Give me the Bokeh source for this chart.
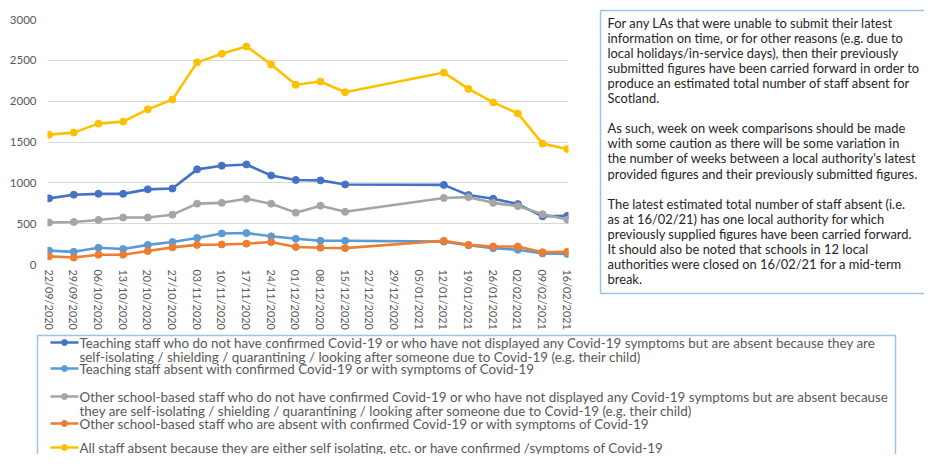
from bokeh.plotting import figure
from bokeh.models import Range1d, FixedTicker, ColumnDataSource, Label
from bokeh.layouts import column, row
from bokeh.embed import file_html
from bokeh.resources import INLINE
from bokeh.core.properties import value

# ---------------- data ----------------
dates = ["22/09/2020", "29/09/2020", "06/10/2020", "13/10/2020", "20/10/2020",
         "27/10/2020", "03/11/2020", "10/11/2020", "17/11/2020", "24/11/2020",
         "01/12/2020", "08/12/2020", "15/12/2020", "22/12/2020", "29/12/2020",
         "05/01/2021", "12/01/2021", "19/01/2021", "26/01/2021", "02/02/2021",
         "09/02/2021", "16/02/2021"]

teaching_isolating = [810, 855, 865, 865, 920, 930, 1165, 1210, 1225, 1090, 1035, 1030, 980,
                      None, None, None, 975, 850, 805, 740, 590, 595]
teaching_covid = [170, 155, 205, 190, 240, 275, 325, 380, 385, 345, 315, 290, 290,
                  None, None, None, 280, 235, 200, 180, 135, 130]
other_isolating = [515, 520, 545, 575, 575, 610, 745, 755, 805, 745, 635, 720, 645,
                   None, None, None, 815, 825, 755, 715, 615, 550]
other_covid = [100, 85, 120, 120, 165, 210, 240, 245, 255, 275, 215, 205, 200,
               None, None, None, 290, 240, 220, 220, 150, 155]
all_staff = [1590, 1615, 1725, 1750, 1900, 2020, 2475, 2580, 2670, 2450, 2200, 2240, 2110,
             None, None, None, 2350, 2150, 1985, 1850, 1480, 1415]

y_ticks = [0, 500, 1000, 1500, 2000, 2500, 3000]

series_labels = [
    ["Teaching staff who do not have confirmed Covid-19 or who have not displayed any Covid-19 symptoms but are absent because they are",
     "self-isolating / shielding / quarantining / looking after someone due to Covid-19 (e.g. their child)"],
    ["Teaching staff absent with confirmed Covid-19 or with symptoms of Covid-19"],
    ["Other school-based staff who do not have confirmed Covid-19 or who have not displayed any Covid-19 symptoms but are absent because",
     "they are self-isolating / shielding / quarantining / looking after someone due to Covid-19 (e.g. their child)"],
    ["Other school-based staff who are absent with confirmed Covid-19 or with symptoms of Covid-19"],
    ["All staff absent because they are either self isolating, etc. or have confirmed /symptoms of Covid-19"],
]
series_values = [teaching_isolating, teaching_covid, other_isolating, other_covid, all_staff]
series_colors = ["#4472C4", "#5B9BD5", "#A5A5A5", "#ED7D31", "#FFC000"]

note_lines = [
    "For any LAs that were unable to submit their latest",
    "information on time, or for other reasons (e.g. due to",
    "local holidays/in-service days), then their previously",
    "submitted figures have been carried forward in order to",
    "produce an estimated total number of staff absent for",
    "Scotland.",
    "",
    "As such, week on week comparisons should be made",
    "with some caution as there will be some variation in",
    "the number of weeks between a local authority's latest",
    "provided figures and their previously submitted figures.",
    "",
    "The latest estimated total number of staff absent (i.e.",
    "as at 16/02/21) has one local authority for which",
    "previously supplied figures have been carried forward.",
    "It should also be noted that schools in 12 local",
    "authorities were closed on 16/02/21 for a mid-term",
    "break.",
]

title_text = "related reasons, Scotland"

FONT = "Lato"
GREY = "#595959"
BORDER = "#9DC3E6"

# ---------------- chart ----------------
CW, CH = 598, 332
chart = figure(width=CW, height=CH, output_backend="svg", toolbar_location=None,
               x_range=Range1d(-0.065, len(dates) - 1 + 0.053), y_range=Range1d(0, 3000),
               min_border_left=47, min_border_right=30, min_border_top=19, min_border_bottom=CH - 264)
chart.outline_line_color = None
chart.xgrid.grid_line_color = None
chart.ygrid.grid_line_color = "#D9D9D9"
chart.ygrid.grid_line_width = 1

chart.yaxis.ticker = FixedTicker(ticks=y_ticks)
chart.xaxis.ticker = FixedTicker(ticks=list(range(len(dates))))
chart.xaxis.major_label_overrides = {i: d for i, d in enumerate(dates)}
chart.xaxis.major_label_orientation = "vertical"
for ax in (chart.xaxis[0], chart.yaxis[0]):
    ax.axis_line_color = None
    ax.major_tick_line_color = None
    ax.minor_tick_line_color = None
    ax.major_tick_out = 0
    ax.major_tick_in = 0
    ax.minor_tick_out = 0
    ax.minor_tick_in = 0
    ax.major_label_text_font = FONT
    ax.major_label_text_color = GREY
chart.yaxis.major_label_text_font_size = "11.5px"
chart.yaxis.major_label_standoff = 11
chart.xaxis.major_label_text_font_size = "10.9px"
chart.xaxis.major_label_standoff = 5

for vals, col in zip(series_values, series_colors):
    xs = [i for i, v in enumerate(vals) if v is not None]
    ys = [v for v in vals if v is not None]
    src = ColumnDataSource(dict(x=xs, y=ys))
    chart.line("x", "y", source=src, line_color=col, line_width=2.6)
    chart.scatter("x", "y", source=src, size=7, fill_color=col, line_color=col)

chart.add_layout(Label(x=390, y=CH - 4, x_units="screen", y_units="screen", text=title_text,
                       text_font=FONT, text_font_size="18px", text_font_style="bold",
                       text_color=GREY, text_baseline="alphabetic"))

# ---------------- note box ----------------
NW = 924 - CW
note = figure(width=NW, height=CH, output_backend="svg", toolbar_location=None,
              x_range=Range1d(0, NW), y_range=Range1d(CH, 0),
              x_axis_type=None, y_axis_type=None,
              min_border_left=0, min_border_right=0, min_border_top=0, min_border_bottom=0)
note.outline_line_color = None
note.grid.visible = False
note.multi_line(xs=[[NW + 5, 2, 2, NW + 5]], ys=[[10, 10, 293, 293]],
                line_color=BORDER, line_width=1.5)
note.text(x=[9] * len(note_lines), y=[22 + 15.1 * k for k in range(len(note_lines))],
          text=note_lines, text_font=value(FONT), text_font_size="12.9px",
          text_color="#262626", text_baseline="middle")

# ---------------- legend box ----------------
LW, LH = CW + NW, 454 - CH
leg = figure(width=LW, height=LH, output_backend="svg", toolbar_location=None,
             x_range=Range1d(0, LW), y_range=Range1d(LH, 0),
             x_axis_type=None, y_axis_type=None,
             min_border_left=0, min_border_right=0, min_border_top=0, min_border_bottom=0)
leg.outline_line_color = None
leg.grid.visible = False
leg.multi_line(xs=[[37, 37, 895, 895]], ys=[[LH + 5, 3, 3, LH + 5]],
               line_color=BORDER, line_width=1.5)

entry_y = [[10, 24], [36], [64, 78], [91], [115]]
tx, ty, tt = [], [], []
for lines, ys, col in zip(series_labels, entry_y, series_colors):
    leg.line([50, 78], [ys[0], ys[0]], line_color=col, line_width=2.6)
    leg.scatter([64], [ys[0]], size=6, fill_color=col, line_color=col)
    for t, yy in zip(lines, ys):
        tx.append(79)
        ty.append(yy)
        tt.append(t)
leg.text(x=tx, y=ty, text=tt, text_font=value(FONT), text_font_size="13.4px",
         text_color=GREY, text_baseline="middle")

layout = column(row(chart, column(note)), leg)

with open("out.html", "w", encoding="utf-8") as f:
    f.write(file_html(layout, INLINE))
